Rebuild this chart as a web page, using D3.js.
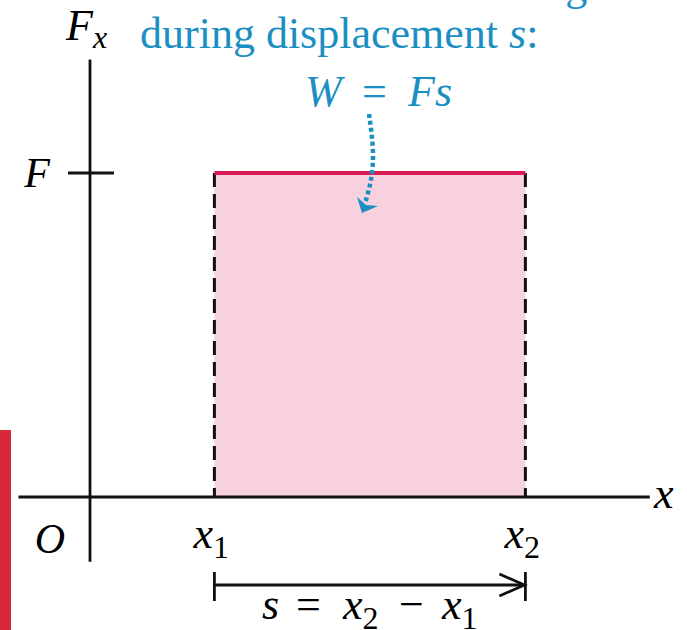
<!DOCTYPE html>
<html>
<head>
<meta charset="utf-8">
<script src="https://cdn.jsdelivr.net/npm/d3@7"></script>
<style>
  body { margin: 0; background: #fff; }
  svg text { font-family: "Liberation Serif", "DejaVu Serif", serif; }
</style>
</head>
<body>
<div id="d3-container"></div>
<script>
const width = 687
const height = 630

// values (arbitrary units)
const positions = [2, 7]          // x1, x2
const positionLabels = ["1", "2"] // subscripts of x
const forceLevel = [1]            // constant force F
const xExtent = [-1.15, 9.0]
const yExtent = [-0.2, 1.35]

const blue = "#1c8fc2"
const crimson = "#d81b55"
const pink = "#f8d1e1"

const svg = d3.select("#d3-container")
  .append("svg")
  .attr("width", width)
  .attr("height", height)

const xScale = d3.scaleLinear().domain([0, 10]).range([90, 712])
const yScale = d3.scaleLinear().domain([0, 1]).range([497, 173])

// red strip at bottom left (cropped from the source page)
svg.append("rect")
  .attr("x", 0).attr("y", 430).attr("width", 11).attr("height", 200)
  .attr("fill", "#d8283a")

// shaded work area
const F = forceLevel[0]
svg.append("rect")
  .attr("x", xScale(positions[0]))
  .attr("y", yScale(F))
  .attr("width", xScale(positions[1]) - xScale(positions[0]))
  .attr("height", yScale(0) - yScale(F))
  .attr("fill", pink)

// dashed sides
svg.selectAll("line.side")
  .data(positions)
  .join("line")
  .attr("class", "side")
  .attr("x1", d => xScale(d)).attr("x2", d => xScale(d))
  .attr("y1", yScale(F)).attr("y2", yScale(0))
  .attr("stroke", "#111")
  .attr("stroke-width", 3)
  .attr("stroke-dasharray", "14,7")

// force line
svg.append("line")
  .attr("x1", xScale(positions[0])).attr("x2", xScale(positions[1]))
  .attr("y1", yScale(F)).attr("y2", yScale(F))
  .attr("stroke", crimson)
  .attr("stroke-width", 4)

// axes
svg.append("line")
  .attr("x1", xScale(xExtent[0])).attr("x2", xScale(xExtent[1]))
  .attr("y1", yScale(0)).attr("y2", yScale(0))
  .attr("stroke", "#111").attr("stroke-width", 2.8)

svg.append("line")
  .attr("x1", xScale(0)).attr("x2", xScale(0))
  .attr("y1", yScale(yExtent[1])).attr("y2", yScale(yExtent[0]))
  .attr("stroke", "#111").attr("stroke-width", 2.8)

// F tick
svg.append("line")
  .attr("x1", xScale(0) - 22).attr("x2", xScale(0) + 24)
  .attr("y1", yScale(F)).attr("y2", yScale(F))
  .attr("stroke", "#111").attr("stroke-width", 2.8)

svg.append("text")
  .attr("x", 37).attr("y", yScale(F) + 14)
  .attr("text-anchor", "middle")
  .attr("font-size", 42).attr("font-style", "italic")
  .text("F")

// axis labels
const fx = svg.append("text")
  .attr("x", 66).attr("y", 40)
  .attr("font-size", 44).attr("font-style", "italic")
fx.append("tspan").text("F")
fx.append("tspan").attr("dy", 8).attr("font-size", 32).text("x")

svg.append("text")
  .attr("x", 654).attr("y", 508)
  .attr("font-size", 44).attr("font-style", "italic")
  .text("x")

svg.append("text")
  .attr("x", 50).attr("y", 553)
  .attr("text-anchor", "middle")
  .attr("font-size", 42).attr("font-style", "italic")
  .text("O")

// x1, x2 labels
const posText = svg.selectAll("text.pos")
  .data(positions)
  .join("text")
  .attr("class", "pos")
  .attr("x", d => xScale(d) - 21)
  .attr("y", 548)
  .attr("font-size", 44)
posText.append("tspan").attr("font-style", "italic").text("x")
posText.append("tspan").attr("dy", 10).attr("font-size", 32).text((d, i) => positionLabels[i])

// displacement arrow
const arrowY = 585
svg.append("line")
  .attr("x1", xScale(positions[0])).attr("x2", xScale(positions[1]))
  .attr("y1", arrowY).attr("y2", arrowY)
  .attr("stroke", "#111").attr("stroke-width", 2.8)
svg.selectAll("line.end")
  .data(positions)
  .join("line")
  .attr("class", "end")
  .attr("x1", d => xScale(d)).attr("x2", d => xScale(d))
  .attr("y1", arrowY - 13).attr("y2", arrowY + 16)
  .attr("stroke", "#111").attr("stroke-width", 2.8)
svg.append("path")
  .attr("d", `M${xScale(positions[1]) - 26},${arrowY - 11} L${xScale(positions[1]) - 1},${arrowY} L${xScale(positions[1]) - 26},${arrowY + 11}`)
  .attr("fill", "none").attr("stroke", "#111").attr("stroke-width", 2.8)

// s = x2 - x1, each piece placed on its own
const sText = svg.append("text")
  .attr("y", 619)
  .attr("font-size", 44)
sText.append("tspan").attr("x", 262).attr("font-style", "italic").text("s")
sText.append("tspan").attr("x", 296).text("=")
sText.append("tspan").attr("x", 343).attr("font-style", "italic").text("x")
sText.append("tspan").attr("dy", 10).attr("font-size", 32).text("2")
sText.append("tspan").attr("x", 399).attr("dy", -10).text("\u2212")
sText.append("tspan").attr("x", 442).attr("font-style", "italic").text("x")
sText.append("tspan").attr("dy", 10).attr("font-size", 32).text("1")

// annotation (first line cropped at the top edge, as in the source)
svg.append("text")
  .attr("x", 140).attr("y", 0)
  .attr("font-size", 44).attr("fill", blue)
  .text("the constant force of magnitude F")

const ann = svg.append("text")
  .attr("x", 140).attr("y", 48)
  .attr("font-size", 44).attr("fill", blue)
ann.append("tspan").text("during displacement ")
ann.append("tspan").attr("font-style", "italic").text("s")
ann.append("tspan").text(":")

const wfs = svg.append("text")
  .attr("y", 106)
  .attr("font-size", 44).attr("fill", blue)
wfs.append("tspan").attr("x", 305).attr("font-style", "italic").text("W")
wfs.append("tspan").attr("x", 362).text("=")
wfs.append("tspan").attr("x", 408).attr("font-style", "italic").text("Fs")

// dotted pointer
const pointer = d3.line().curve(d3.curveBasis)
svg.append("path")
  .attr("d", pointer([[369, 114], [374, 150], [372, 180], [365, 203]]))
  .attr("fill", "none").attr("stroke", blue)
  .attr("stroke-width", 4.5).attr("stroke-dasharray", "4,3")
svg.append("path")
  .attr("d", "M357,197 L362,213 L378,206 L366,205 Z")
  .attr("fill", blue)
</script>
</body>
</html>
